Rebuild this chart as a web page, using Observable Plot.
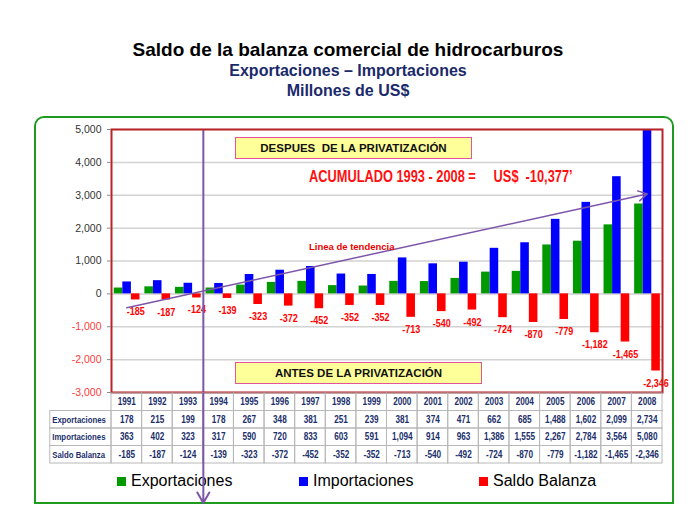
<!DOCTYPE html>
<html>
<head>
<meta charset="utf-8">
<script src="https://cdn.jsdelivr.net/npm/d3@7"></script>
<script src="https://cdn.jsdelivr.net/npm/@observablehq/plot@0.6"></script>
<style>
  html, body { margin: 0; padding: 0; background: #fff; }
  #wrap { position: relative; width: 696px; height: 527px; overflow: hidden; font-family: "Liberation Sans", Arial, sans-serif; }
  .abs { position: absolute; }
  .t1 { left: 0; width: 696px; text-align: center; font-weight: bold; white-space: nowrap; }
  #title { top: 40px; font-size: 19px; line-height: 19px; color: #000; }
  #sub1 { top: 62.5px; font-size: 16px; line-height: 16px; color: #1b2a6b; }
  #sub2 { top: 83px; font-size: 16px; line-height: 16px; color: #1b2a6b; }
  #box { left: 34px; top: 116px; width: 636px; height: 384px; border: 2px solid #1e9b1e; border-radius: 10px 10px 0 0; }
  .note { box-sizing: border-box; background: #ffff99; border: 1.5px solid #e0559b; font-weight: bold; font-size: 11.5px; color: #111; display: flex; align-items: center; justify-content: center; white-space: nowrap; }
  #despues { left: 235px; top: 137px; width: 237px; height: 22px; }
  #antes { left: 235px; top: 362px; width: 247px; height: 22px; }
  #acum { left: 309px; top: 168.5px; font-weight: bold; font-size: 16px; line-height: 16px; color: #ff1010; white-space: pre; transform: scaleX(0.8); transform-origin: 0 0; }
  #tend { left: 309px; top: 241.5px; font-weight: bold; font-size: 9.5px; line-height: 10px; color: #e60000; white-space: nowrap; }
  .leg { top: 472.5px; font-size: 16px; line-height: 16px; color: #000; white-space: nowrap; }
  .sw { display: inline-block; width: 9px; height: 9px; margin-right: 5px; vertical-align: 0px; }
</style>
</head>
<body>
<div id="wrap">
  <div id="title" class="abs t1">Saldo de la balanza comercial de hidrocarburos</div>
  <div id="sub1" class="abs t1">Exportaciones – Importaciones</div>
  <div id="sub2" class="abs t1">Millones de US$</div>
  <div id="box" class="abs"></div>
  <div id="legend"></div>
  <div id="chart" class="abs" style="left:0;top:117px;"></div>
  <div id="table" class="abs" style="left:0;top:392px;"></div>
  <div id="despues" class="abs note">DESPUES&nbsp; DE LA PRIVATIZACIÓN</div>
  <div id="antes" class="abs note">ANTES DE LA PRIVATIZACIÓN</div>
  <div id="acum" class="abs">ACUMULADO 1993 - 2008 =     US$  -10,377’</div>
  <div id="tend" class="abs">Linea de tendencia</div>
</div>
<script>
// ---- Data ----
const years = [1991, 1992, 1993, 1994, 1995, 1996, 1997, 1998, 1999, 2000, 2001, 2002, 2003, 2004, 2005, 2006, 2007, 2008];
const exportaciones = [178, 215, 199, 178, 267, 348, 381, 251, 239, 381, 374, 471, 662, 685, 1488, 1602, 2099, 2734];
const importaciones = [363, 402, 323, 317, 590, 720, 833, 603, 591, 1094, 914, 963, 1386, 1555, 2267, 2784, 3564, 5080];
const saldoBalanza = [-185, -187, -124, -139, -323, -372, -452, -352, -352, -713, -540, -492, -724, -870, -779, -1182, -1465, -2346];
const seriesNames = ["Exportaciones", "Importaciones", "Saldo Balanza"];
const seriesColors = ["#009a00", "#0000ff", "#ff0000"];
const yTicks = [-3000, -2000, -1000, 0, 1000, 2000, 3000, 4000, 5000];
const trendLine = [{x1: 1991.5, y1: -425, x2: 2008.5, y2: 3040}];
const privatizacionYear = 1994;

// ---- Layout ----
const W = 696, mL = 111, mR = 34;
const step = (W - mL - mR) / years.length;
const purple = "#7d56a9";
const font = "'Liberation Sans',Arial,sans-serif";
const fmt = d3.formatLocale({decimal: ".", thousands: ",", grouping: [3], currency: ["$", ""], minus: "-"}).format(",");

const seriesValues = [exportaciones, importaciones, saldoBalanza];
const rows = years.flatMap((year, i) => seriesValues.map((vals, k) => ({year, k, value: vals[i]})));
const saldoRows = years.map((year, i) => ({year, value: saldoBalanza[i]}));

const barMarks = seriesNames.map((name, k) => Plot.rectY(rows.filter(d => d.k === k), {
  x1: "year", x2: d => d.year + 1, y: "value",
  fill: seriesColors[k],
  insetLeft: step * (0.09 + k * 0.28),
  insetRight: step * (1 - 0.09 - (k + 1) * 0.28),
  clip: true
}));

const chart = Plot.plot({
  width: W, height: 275,
  marginLeft: mL, marginRight: mR, marginTop: 12, marginBottom: 0,
  style: {background: "transparent", overflow: "visible", fontFamily: font},
  x: {domain: [years[0], years[years.length - 1] + 1], axis: null},
  y: {domain: [yTicks[0], yTicks[yTicks.length - 1]], axis: null},
  marks: [
    Plot.gridY(yTicks, {stroke: "#d2d2d2", strokeWidth: 1.5, strokeOpacity: 1}),
    ...barMarks,
    Plot.text(saldoRows, {
      x: "year", y: "value", text: d => fmt(d.value),
      dx: step * (0.09 + 2.5 * 0.28), dy: 12,
      fill: "#ff0000", fontWeight: "bold", fontSize: 11, fontFamily: font, ariaDescription: "narrow"
    }),
    Plot.ruleX([privatizacionYear], {stroke: purple, strokeWidth: 2}),
    Plot.arrow(trendLine, {x1: "x1", y1: "y1", x2: "x2", y2: "y2", stroke: purple, strokeWidth: 1.5, headLength: 10}),
    Plot.frame({stroke: "#b9232a", strokeWidth: 2}),
    Plot.axisY(yTicks.filter(t => t >= 0), {tickSize: 4, tickPadding: 6, tickFormat: d => fmt(d), fill: "#333", stroke: "#888", fontSize: 10.5}),
    Plot.axisY(yTicks.filter(t => t < 0), {tickSize: 4, tickPadding: 6, tickFormat: d => fmt(d), fill: "#ff3a3a", stroke: "#888", fontSize: 10.5})
  ]
});
document.getElementById("chart").appendChild(chart);

// ---- Table ----
const tableRows = [
  {label: null, values: years},
  {label: "Exportaciones", values: exportaciones},
  {label: "Importaciones", values: importaciones},
  {label: "Saldo Balanza", values: saldoBalanza}
];
const cells = tableRows.flatMap((r, ri) => years.map((year, i) => ({
  year, row: ri, text: ri === 0 ? String(year) : fmt(r.values[i])
})));
const labelCells = tableRows.map((r, ri) => ({row: ri, label: r.label})).filter(d => d.label);
const firstYear = years[0];

const table = Plot.plot({
  width: W, height: 113,
  marginLeft: mL - 2 * step, marginRight: mR, marginTop: 1, marginBottom: 0,
  style: {background: "transparent", overflow: "visible", fontFamily: font},
  x: {domain: [firstYear - 2, years[years.length - 1] + 1], axis: null},
  y: {domain: [0, 6.4], reverse: true, axis: null},
  marks: [
    Plot.rect(cells, {x1: "year", x2: d => d.year + 1, y1: "row", y2: d => d.row + 1, stroke: "#b8b8b8", fill: "none", strokeWidth: 1}),
    Plot.rect(labelCells, {x1: () => firstYear - 2, x2: () => firstYear, y1: "row", y2: d => d.row + 1, stroke: "#b8b8b8", fill: "none", strokeWidth: 1}),
    Plot.text(cells, {x: d => d.year + 0.5, y: d => d.row + 0.5, text: "text", fill: "#1b2f6b", fontWeight: "bold", fontSize: 10, fontFamily: font, ariaDescription: "narrow"}),
    Plot.text(labelCells, {x: () => firstYear - 2, y: d => d.row + 0.5, text: "label", textAnchor: "start", dx: 2, fill: "#1b2f6b", fontWeight: "bold", fontSize: 9.5, fontFamily: font, ariaDescription: "narrow"}),
    Plot.arrow([{x: privatizacionYear, y1: 0, y2: 6.25}], {x1: "x", x2: "x", y1: "y1", y2: "y2", stroke: purple, strokeWidth: 2, headLength: 9})
  ]
});
document.getElementById("table").appendChild(table);

// condensed look (like Arial Narrow) for table and value labels
for (const svg of [chart, table]) {
  svg.querySelectorAll('g[aria-description="narrow"] text').forEach(t => {
    const len = t.getComputedTextLength();
    if (len > 0) {
      t.setAttribute("textLength", (len * 0.82).toFixed(2));
      t.setAttribute("lengthAdjust", "spacingAndGlyphs");
    }
  });
}

// ---- Legend (HTML) ----
const legendX = [117, 299, 479];
const legend = document.getElementById("legend");
seriesNames.forEach((name, k) => {
  const el = document.createElement("div");
  el.className = "abs leg";
  el.style.left = legendX[k] + "px";
  el.innerHTML = `<span class="sw" style="background:${seriesColors[k]}"></span>${name}`;
  legend.appendChild(el);
});
</script>
</body>
</html>
